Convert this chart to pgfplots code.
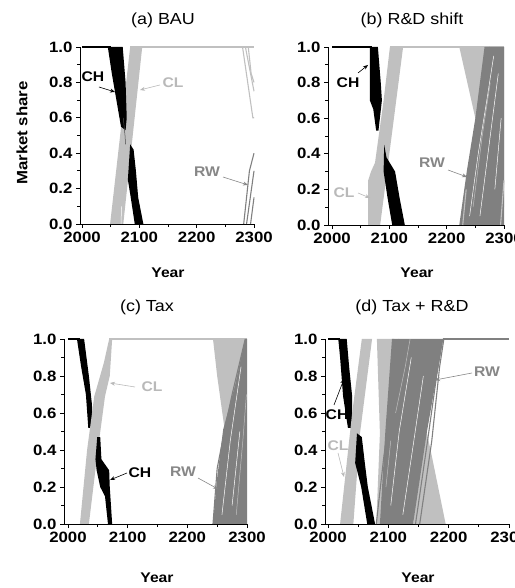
\documentclass[border=0pt]{standalone}
\usepackage{fontspec}
\setmainfont{Liberation Sans}[FakeStretch=1.12]
\usepackage{pgfplots}
\pgfplotsset{compat=1.18}
\usetikzlibrary{arrows.meta}

\definecolor{cl}{RGB}{192,192,192}
\definecolor{rw}{RGB}{128,128,128}
\definecolor{cltext}{RGB}{185,185,185}
\definecolor{rwtext}{RGB}{135,135,135}

\pgfplotsset{
  panel/.style={
    scale only axis, anchor=south west,
    axis lines=left, axis line style={-, black, line width=0.8pt},
    xmax=2300, ymin=0, ymax=1, clip=false,
    xtick={2000,2100,2200,2300}, minor xtick={2050,2150,2250},
    ytick={0,0.2,0.4,0.6,0.8,1.0}, minor ytick={0.1,0.3,0.5,0.7,0.9},
    tick align=outside, tick style={black, line width=0.8pt},
    major tick length=4pt, minor tick length=3pt,
    /pgf/number format/assume math mode=true,
    xticklabel style={/pgf/number format/1000 sep={}},
    yticklabel style={/pgf/number format/fixed, /pgf/number format/fixed zerofill,
      /pgf/number format/precision=1},
    ticklabel style={font=\bfseries\fontsize{15}{15}\selectfont},
  },
  band/.style={draw=none, fill=#1},
  traj/.style={#1, line width=1.1pt},
  streak/.style={#1, line width=0.5pt},
}
\tikzset{ann/.style={font=\bfseries\fontsize{14}{14}\selectfont},
  lead/.style={-{Stealth[length=5pt,width=4pt]}, line width=0.6pt}}

\begin{document}
\begin{tikzpicture}[x=1pt,y=1pt]

% (a) BAU
\begin{axis}[panel, at={(80pt,364pt)}, width=174pt, height=177pt, xmin=1996.5]
  \addplot[band=cl] coordinates {(2049,0)(2072,0)(2105,1)(2084,1)} -- cycle;
  \addplot[band=black] coordinates {(2045,1)(2071,1)(2076,0.8)(2078,0.6)(2076,0.53)(2068,0.55)(2060,0.7)(2052,0.85)} -- cycle;
  \addplot[band=black] coordinates {(2084,0.45)(2090,0.42)(2094,0.3)(2098,0.15)(2107,0)(2092,0)(2085,0.15)(2080,0.25)(2082,0.35)} -- cycle;
  \addplot[streak=white] coordinates {(2068,0)(2069,0.1)};
  \addplot[streak=black!70] coordinates {(2072,0.6)(2075,0.5)(2076,0.45)};
  \addplot[traj=black] coordinates {(2000,1)(2050,1)};
  \addplot[traj=cl] coordinates {(2084,1)(2300,1)};
  \addplot[traj=cl] coordinates {(2280,1)(2298,0.6)(2300,0.6)};
  \addplot[traj=cl] coordinates {(2285,1)(2300,0.75)};
  \addplot[traj=cl] coordinates {(2290,1)(2295,0.85)(2300,0.8)};
  \addplot[traj=rw] coordinates {(2282,0)(2292,0.3)(2300,0.4)};
  \addplot[traj=rw] coordinates {(2287,0)(2300,0.3)};
  \addplot[traj=rw] coordinates {(2294,0)(2300,0.15)};
\end{axis}

% (b) R&D shift
\begin{axis}[panel, at={(328pt,363pt)}, width=176pt, height=178pt, xmin=1993]
  \addplot[band=cl] coordinates {(2063,0)(2084,0)(2124,1)(2101,1)(2090,0.7)(2075,0.35)(2068,0.3)(2063,0.25)} -- cycle;
  \addplot[band=black] coordinates {(2066,1)(2080,1)(2085,0.8)(2087,0.7)(2081,0.53)(2077,0.53)(2072,0.65)(2066,0.7)} -- cycle;
  \addplot[band=black] coordinates {(2091,0.45)(2095,0.38)(2110,0.3)(2118,0.15)(2127,0)(2105,0)(2097,0.15)(2090,0.3)} -- cycle;
  \addplot[traj=black] coordinates {(2000,1)(2070,1)};
  \addplot[traj=cl] coordinates {(2101,1)(2300,1)};
  \addplot[band=cl] coordinates {(2222,1)(2300,1)(2300,0.1)(2290,0.3)(2265,0.45)(2250,0.6)} -- cycle;
  \addplot[band=rw] coordinates {(2222,0)(2300,0)(2300,1)(2266,1)(2250,0.6)(2235,0.3)} -- cycle;
  \addplot[streak=white] coordinates {(2240,0.05)(2255,0.4)(2270,0.7)(2282,0.95)};
  \addplot[streak=white] coordinates {(2258,0.05)(2274,0.45)(2290,0.85)};
  \addplot[streak=white] coordinates {(2284,0.2)(2295,0.6)};
  \addplot[streak=cl] coordinates {(2246,0.1)(2262,0.5)(2276,0.8)};
  \addplot[traj=cl] coordinates {(2294,0)(2300,0.25)};
  \addplot[traj=cl] coordinates {(2228,0)(2234,0.2)};
  \addplot[traj=rw] coordinates {(2275,1)(2262,0.8)(2250,0.55)};
\end{axis}

% (c) Tax
\begin{axis}[panel, at={(64pt,64pt)}, width=183pt, height=185pt, xmin=1993.3]
  \addplot[band=black] coordinates {(2015,1)(2027,1)(2035,0.8)(2040,0.65)(2042,0.52)(2034,0.52)(2030,0.7)(2022,0.85)} -- cycle;
  \addplot[band=cl] coordinates {(2020,0)(2035,0)(2050,0.4)(2062,0.69)(2070,0.8)(2074,1)(2069,1)(2060,0.87)(2044,0.69)(2032,0.4)} -- cycle;
  \addplot[band=black] coordinates {(2049,0.47)(2054,0.47)(2056,0.35)(2069,0.29)(2070,0.2)(2074,0)(2067,0)(2062,0.15)(2054,0.2)(2048,0.29)(2046,0.35)} -- cycle;
  \addplot[traj=black] coordinates {(2000,1)(2020,1)};
  \addplot[traj=cl] coordinates {(2069,1)(2300,1)};
  \addplot[band=cl] coordinates {(2243,1)(2300,1)(2290,0.6)(2263,0.5)(2250,0.8)} -- cycle;
  \addplot[band=rw] coordinates {(2243,0)(2300,0)(2300,1)(2297,1)(2280,0.75)(2260,0.51)(2250,0.25)} -- cycle;
  \addplot[traj=rw] coordinates {(2243,0)(2250,0.3)(2262,0.5)(2275,0.7)(2297,1)};
  \addplot[streak=white] coordinates {(2258,0.05)(2272,0.45)(2290,0.85)};
  \addplot[streak=white] coordinates {(2275,0.1)(2288,0.5)};
  \addplot[streak=cl] coordinates {(2282,0.05)(2293,0.45)(2299,0.7)};
  \addplot[streak=cl] coordinates {(2252,0.95)(2258,0.7)};
\end{axis}

% (d) Tax + R&D
\begin{axis}[panel, at={(325pt,64pt)}, width=184pt, height=185pt, xmin=1995]
  \addplot[band=black] coordinates {(2017,1)(2031,1)(2035,0.85)(2040,0.69)(2040,0.52)(2033,0.52)(2025,0.69)(2020,0.9)} -- cycle;
  \addplot[band=cl] coordinates {(2020,0)(2042,0)(2053,0.49)(2073,1)(2056,1)(2040,0.6)(2030,0.3)} -- cycle;
  \addplot[band=cl] coordinates {(2081,1)(2110,1)(2100,0.5)(2088,0)(2080,0)(2086,0.49)} -- cycle;
  \addplot[band=cl] coordinates {(2141,0)(2195,0)(2170,0.4)(2160,0.55)} -- cycle;
  \addplot[band=rw] coordinates {(2086,0)(2141,0)(2164,0.5)(2191,1)(2106,1)(2095,0.5)} -- cycle;
  \addplot[streak=white] coordinates {(2104,0.1)(2118,0.5)(2138,0.9)};
  \addplot[streak=white] coordinates {(2124,0.05)(2140,0.4)(2158,0.8)};
  \addplot[streak=cl] coordinates {(2112,0.6)(2128,0.85)(2136,1)};
  \addplot[streak=cl] coordinates {(2096,0.2)(2104,0.45)};
  \addplot[traj=rw] coordinates {(2145,0)(2165,0.45)(2180,0.8)(2190,1)};
  \addplot[traj=rw] coordinates {(2152,0)(2172,0.45)(2185,0.85)(2192,1)};
  \addplot[traj=rw] coordinates {(2080,0)(2092,0.35)(2108,0.75)(2118,1)};
  \addplot[band=black] coordinates {(2048,0.49)(2056,0.47)(2061,0.33)(2066,0.2)(2078,0)(2065,0)(2055,0.2)(2045,0.33)} -- cycle;
  \addplot[traj=black] coordinates {(2000,1)(2020,1)};
  \addplot[traj=rw] coordinates {(2191,1)(2300,1)};
\end{axis}

% titles and axis labels
\node[font=\fontsize{16}{16}\selectfont] at (163,568) {(a) BAU};
\node[font=\fontsize{16}{16}\selectfont] at (412,568) {(b) R\&D shift};
\node[font=\fontsize{16}{16}\selectfont] at (147,281) {(c) Tax};
\node[font=\fontsize{16}{16}\selectfont] at (412,281) {(d) Tax + R\&D};
\node[ann, font=\bfseries\fontsize{15}{15}\selectfont, rotate=90] at (22,455) {Market share};
\node[ann] at (168,315) {Year};
\node[ann] at (417,315) {Year};
\node[ann] at (157,10) {Year};
\node[ann] at (418,10) {Year};

% series labels
\node[ann] at (93,511) {CH};
\draw[lead, black] (99,501) -- (115,496);
\node[ann, text=cltext] at (173,505) {CL};
\draw[lead, cltext] (160,503) -- (140,498);
\node[ann, text=rwtext] at (207,416) {RW};
\draw[lead, rwtext] (223,411) -- (248,403);

\node[ann] at (348,505) {CH};
\draw[lead, black] (358,515) -- (368,523);
\node[ann, text=cltext] at (344,395) {CL};
\draw[lead, cltext] (358,395) -- (370,390);
\node[ann, text=rwtext] at (432,425) {RW};
\draw[lead, rwtext] (448,418) -- (467,411);

\node[ann, text=cltext] at (152,201) {CL};
\draw[lead, cltext] (135,201) -- (110,205);
\node[ann] at (140,115) {CH};
\draw[lead, black] (127,115) -- (110,108);
\node[ann, text=rwtext] at (183,116) {RW};
\draw[lead, rwtext] (198,110) -- (218,99);

\node[ann, text=rwtext] at (487,216) {RW};
\draw[lead, rwtext] (472,215) -- (435,208);
\node[ann] at (337,173) {CH};
\draw[lead, black] (334,183) -- (344,209);
\node[ann, text=cltext] at (338,142) {CL};
\draw[lead, cltext] (338,135) -- (344,111);

\pgfresetboundingbox
\path[use as bounding box] (0,0) rectangle (514,588);
\end{tikzpicture}
\end{document}
